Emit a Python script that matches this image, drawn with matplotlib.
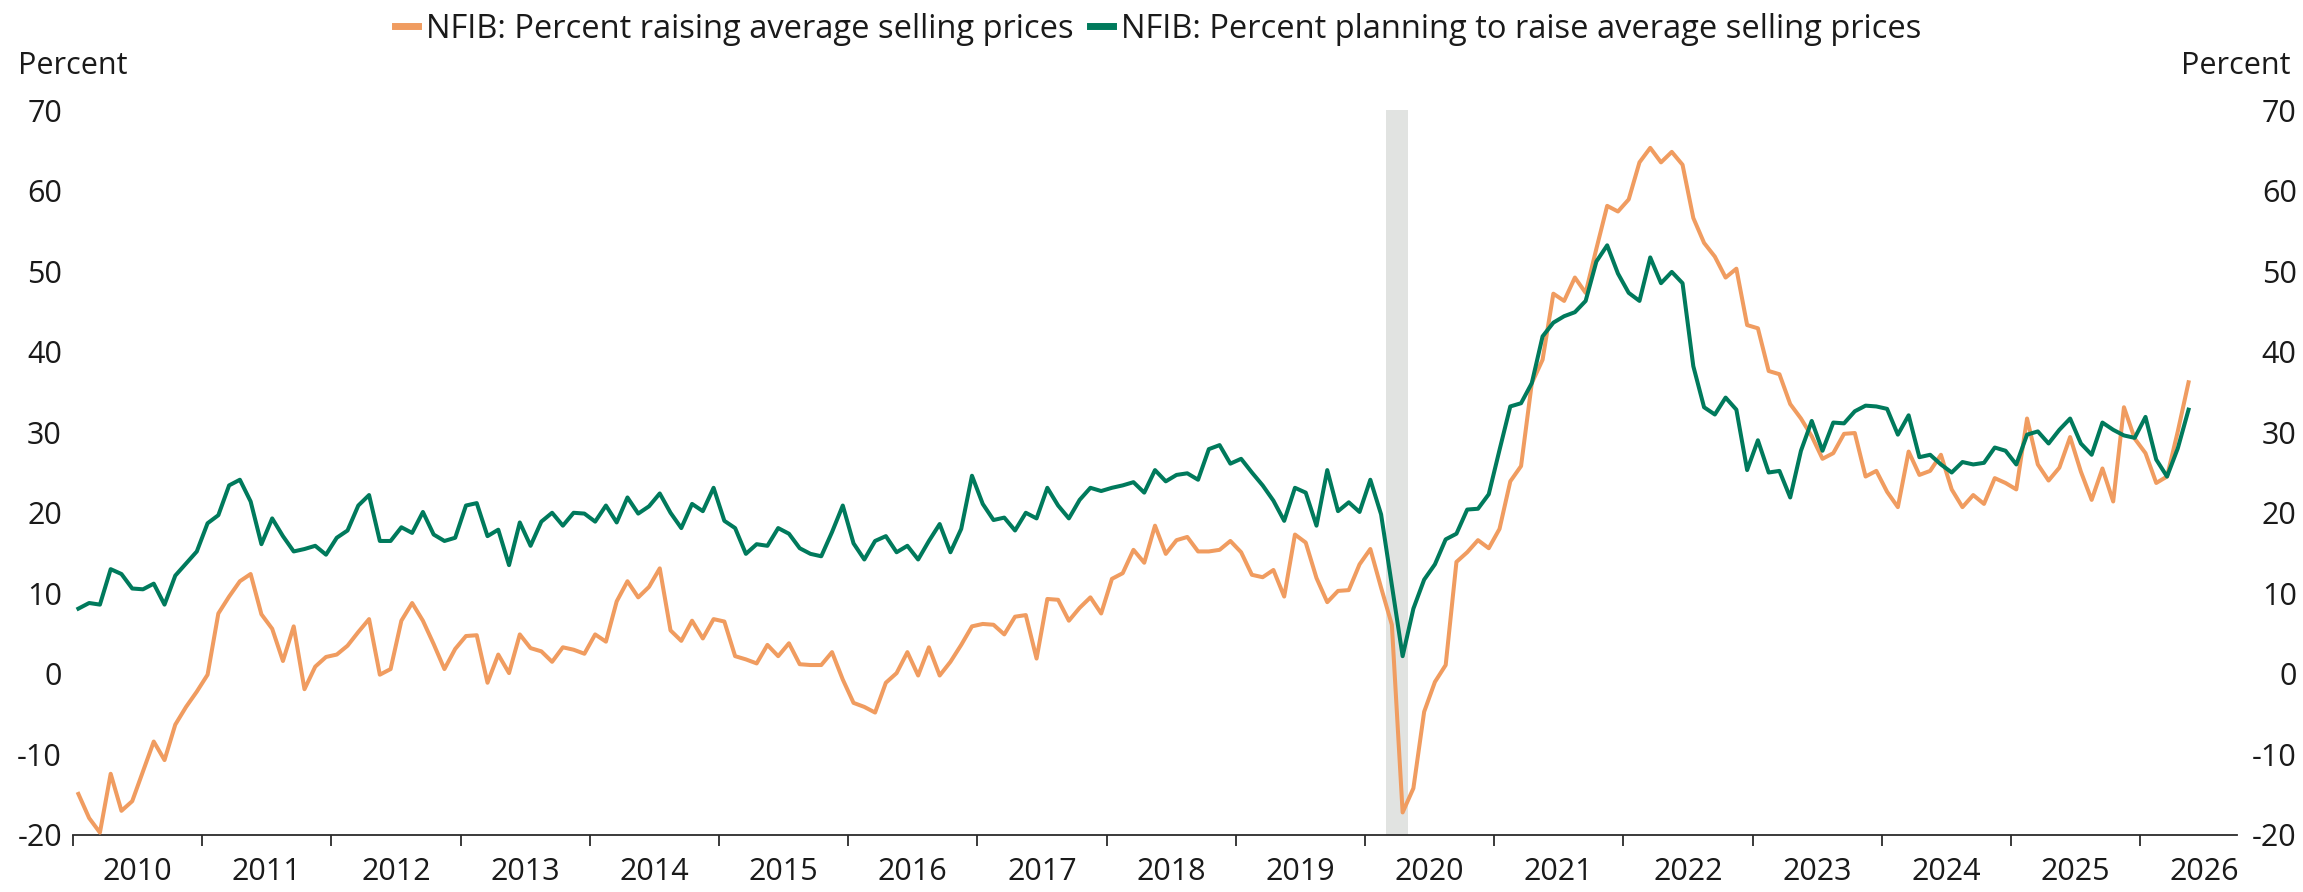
import matplotlib as mpl

mpl.use("Agg")
import matplotlib.pyplot as plt
import numpy as np

plt.rcParams["font.family"] = ["Open Sans", "DejaVu Sans"]
plt.rcParams["axes.unicode_minus"] = False

# monthly survey readings, Jan 2010 - May 2026
start_year = 2010
raising = [
    -14.9, -17.9, -19.7, -12.4, -17.0, -15.8, -12.1, -8.4, -10.7, -6.3, -4.1, -2.2,
    -0.1, 7.5, 9.6, 11.5, 12.4, 7.4, 5.6, 1.6, 5.9, -1.9, 0.9, 2.1,
    2.4, 3.5, 5.2, 6.8, -0.1, 0.6, 6.6, 8.8, 6.6, 3.7, 0.6, 3.1,
    4.7, 4.8, -1.1, 2.4, 0.1, 4.9, 3.2, 2.8, 1.5, 3.3, 3.0, 2.5,
    4.9, 4.0, 9.0, 11.5, 9.5, 10.8, 13.1, 5.4, 4.1, 6.6, 4.4, 6.8,
    6.5, 2.2, 1.8, 1.3, 3.6, 2.2, 3.8, 1.2, 1.1, 1.1, 2.7, -0.7,
    -3.6, -4.1, -4.8, -1.1, 0.1, 2.7, -0.2, 3.3, -0.2, 1.5, 3.6, 5.9,
    6.2, 6.1, 4.9, 7.1, 7.3, 1.9, 9.3, 9.2, 6.6, 8.2, 9.5, 7.5,
    11.8, 12.5, 15.4, 13.8, 18.4, 14.9, 16.6, 17.0, 15.2, 15.2, 15.4, 16.5,
    15.1, 12.3, 12.0, 12.9, 9.6, 17.3, 16.3, 11.9, 8.9, 10.3, 10.4, 13.6,
    15.5, 10.7, 6.1, -17.2, -14.2, -4.7, -1.0, 1.1, 13.9, 15.1, 16.6, 15.6,
    18.0, 23.9, 25.8, 36.1, 39.0, 47.2, 46.3, 49.2, 47.3, 52.8, 58.1, 57.4,
    58.9, 63.5, 65.3, 63.5, 64.8, 63.2, 56.6, 53.5, 51.8, 49.2, 50.3, 43.3,
    42.9, 37.6, 37.2, 33.5, 31.7, 29.5, 26.7, 27.4, 29.8, 29.9, 24.5, 25.2,
    22.6, 20.7, 27.6, 24.7, 25.2, 27.2, 22.9, 20.7, 22.2, 21.1, 24.3, 23.7,
    22.9, 31.7, 26.0, 24.0, 25.6, 29.4, 25.1, 21.6, 25.5, 21.4, 33.1, 29.2,
    27.4, 23.7, 24.5, 30.1, 36.2,
]
planning = [
    8.1, 8.8, 8.6, 13.0, 12.4, 10.6, 10.5, 11.2, 8.6, 12.2, 13.7, 15.2,
    18.7, 19.7, 23.4, 24.1, 21.4, 16.1, 19.3, 17.1, 15.2, 15.5, 15.9, 14.8,
    16.9, 17.8, 20.9, 22.2, 16.5, 16.5, 18.2, 17.5, 20.1, 17.3, 16.5, 16.9,
    20.9, 21.2, 17.1, 17.9, 13.5, 18.8, 15.9, 18.9, 20.0, 18.4, 20.0, 19.9,
    18.9, 20.9, 18.8, 21.9, 19.9, 20.8, 22.4, 20.0, 18.1, 21.1, 20.2, 23.1,
    19.0, 18.1, 14.9, 16.1, 15.9, 18.1, 17.4, 15.6, 14.9, 14.6, 17.6, 20.9,
    16.2, 14.2, 16.5, 17.1, 15.1, 15.9, 14.2, 16.5, 18.6, 15.1, 18.0, 24.6,
    21.1, 19.1, 19.4, 17.8, 20.0, 19.3, 23.1, 20.9, 19.3, 21.6, 23.1, 22.7,
    23.1, 23.4, 23.8, 22.5, 25.3, 23.9, 24.7, 24.9, 24.1, 27.9, 28.4, 26.1,
    26.7, 25.0, 23.4, 21.5, 19.0, 23.1, 22.5, 18.4, 25.3, 20.2, 21.3, 20.1,
    24.1, 19.8, 11.0, 2.2, 8.1, 11.7, 13.6, 16.7, 17.4, 20.4, 20.5, 22.3,
    27.8, 33.2, 33.6, 36.1, 41.9, 43.6, 44.4, 44.9, 46.3, 51.2, 53.2, 49.7,
    47.3, 46.3, 51.7, 48.5, 49.9, 48.5, 38.2, 33.1, 32.2, 34.3, 32.8, 25.3,
    29.0, 25.0, 25.2, 21.9, 27.7, 31.4, 27.7, 31.2, 31.1, 32.6, 33.3, 33.2,
    32.9, 29.7, 32.1, 26.9, 27.2, 26.0, 25.0, 26.3, 26.0, 26.2, 28.1, 27.7,
    26.0, 29.7, 30.1, 28.6, 30.3, 31.7, 28.6, 27.2, 31.2, 30.3, 29.6, 29.3,
    31.9, 26.6, 24.5, 28.0, 32.8,
]
years = list(range(2010, 2027))
y_ticks = list(range(-20, 71, 10))
recession = (2020 + 2 / 12, 2020 + 4 / 12)

ORANGE = "#f09c60"
GREEN = "#007a5c"
AXIS = "#2b2b2b"
TEXT = "#1a1a1a"
FS = 22

x = start_year + (np.arange(len(raising)) + 0.5) / 12

W, H = 2303, 892
fig = plt.figure(figsize=(W / 100, H / 100), dpi=100)
ax = fig.add_axes([73 / W, 1 - 835 / H, (2237 - 73) / W, (835 - 110) / H])

ax.axvspan(*recession, color="#e1e3e1", lw=0, zorder=0)
ax.plot(x, raising, color=ORANGE, lw=2.9, zorder=3,
        label="NFIB: Percent raising average selling prices")
ax.plot(x, planning, color=GREEN, lw=2.9, zorder=3,
        label="NFIB: Percent planning to raise average selling prices")

ax.set_xlim(2010, 2026.75)
ax.set_ylim(-20, 70)

# year boundaries get tick marks, labels sit mid-year
ax.set_xticks(years)
ax.set_xticklabels([])
ax.set_xticks([y + 0.5 for y in years], minor=True)
ax.set_xticklabels([str(y) for y in years], minor=True)
ax.tick_params(axis="x", which="major", length=8, width=1.3, color=AXIS, direction="out")
ax.tick_params(axis="x", which="minor", length=0, pad=16, labelsize=FS, labelcolor=TEXT)

ax.set_yticks(y_ticks)
ax.set_yticklabels([str(v) for v in y_ticks])
ax.tick_params(axis="y", length=0, pad=8, labelsize=FS, labelcolor=TEXT)

for side in ["left", "right", "top"]:
    ax.spines[side].set_visible(False)
ax.spines["bottom"].set_color(AXIS)
ax.spines["bottom"].set_linewidth(1.3)

ax2 = ax.twinx()
ax2.set_ylim(-20, 70)
ax2.set_yticks(y_ticks)
ax2.set_yticklabels([str(v) for v in y_ticks])
ax2.tick_params(axis="y", length=0, pad=43, labelsize=FS, labelcolor=TEXT)
for lab in ax2.get_yticklabels():
    lab.set_horizontalalignment("right")
for side in ["left", "right", "top", "bottom"]:
    ax2.spines[side].set_visible(False)

fig.text(18 / W, 1 - 66 / H, "Percent", ha="left", va="center", fontsize=FS, color=TEXT)
fig.text(2291 / W, 1 - 66 / H, "Percent", ha="right", va="center", fontsize=FS, color=TEXT)

handles, labels = ax.get_legend_handles_labels()
leg = fig.legend(handles, labels, loc="center", bbox_to_anchor=(0.503, 1 - 29 / H),
                 ncol=2, frameon=False, fontsize=23.5, handlelength=0.7,
                 handletextpad=0.25, columnspacing=0.5, labelcolor=TEXT)
for h in leg.legend_handles:
    h.set_linewidth(5)

fig.savefig("out.png", dpi=100)
plt.close(fig)
